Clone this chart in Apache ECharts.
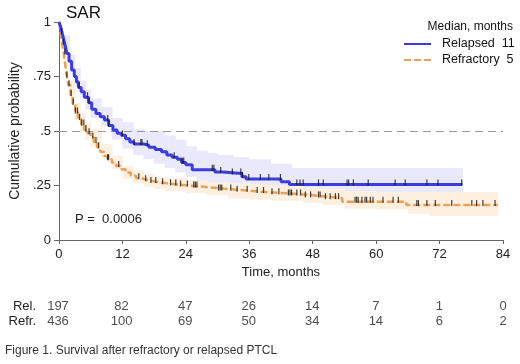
<!DOCTYPE html>
<html>
<head>
<meta charset="utf-8">
<script src="https://cdn.jsdelivr.net/npm/echarts@6/dist/echarts.min.js"></script>
<style>
  html, body { margin: 0; padding: 0; background: #fff; }
  #chart { width: 520px; height: 364px; }
</style>
</head>
<body>
<div id="chart"></div>
<script>
// Kaplan-Meier steps, relapsed
const relTime = [0, 0.3, 0.6, 0.9, 1.2, 1.5, 1.9, 2.4, 2.9, 3.3, 3.7, 4.2, 4.8, 5.6, 6.2, 7.0, 7.8, 8.6, 9.4, 10.2, 11.0, 11.8, 12.6, 13.4, 14.2, 16.0, 17.0, 18.2, 19.4, 20.4, 21.4, 22.4, 23.2, 24.0, 25.2, 29.5, 31.0, 34.6, 35.4, 42.0, 43.6, 76.3]
const relSurv = [1.0, 0.98, 0.95, 0.92, 0.89, 0.855, 0.82, 0.78, 0.75, 0.725, 0.70, 0.68, 0.655, 0.63, 0.60, 0.58, 0.565, 0.55, 0.525, 0.505, 0.49, 0.48, 0.465, 0.45, 0.44, 0.435, 0.425, 0.415, 0.405, 0.39, 0.38, 0.37, 0.355, 0.345, 0.322, 0.312, 0.305, 0.29, 0.28, 0.267, 0.255, 0.255]
// Kaplan-Meier steps, refractory
const refTime = [0, 0.3, 0.6, 0.9, 1.2, 1.5, 1.8, 2.2, 2.6, 3.1, 3.6, 4.2, 4.8, 5.4, 6.0, 6.6, 7.2, 7.8, 8.5, 9.2, 10.0, 10.8, 11.6, 12.6, 13.6, 14.6, 15.6, 17.0, 18.6, 20.4, 22.4, 24.6, 27.0, 30.0, 33.0, 36.0, 39.0, 43.0, 46.2, 50.3, 53.6, 65.7, 83.0]
const refSurv = [1.0, 0.95, 0.90, 0.855, 0.80, 0.75, 0.71, 0.665, 0.625, 0.585, 0.555, 0.53, 0.505, 0.49, 0.47, 0.45, 0.425, 0.405, 0.385, 0.37, 0.355, 0.34, 0.325, 0.31, 0.295, 0.283, 0.274, 0.266, 0.26, 0.255, 0.25, 0.245, 0.238, 0.232, 0.226, 0.22, 0.214, 0.209, 0.20, 0.192, 0.176, 0.16, 0.16]

// confidence bands (last time closes the band)
const relBandTime = [0, 1, 2, 3, 4, 5, 6, 8, 10, 12, 14, 16, 18, 20, 22, 24, 26, 28, 30, 33, 36, 40, 44, 50, 60, 70, 76.3]
const relHi = [1.0, 0.94, 0.85, 0.79, 0.73, 0.69, 0.65, 0.61, 0.56, 0.54, 0.51, 0.50, 0.50, 0.48, 0.46, 0.43, 0.41, 0.40, 0.39, 0.38, 0.37, 0.35, 0.33, 0.33, 0.33, 0.33, 0.33]
const relLo = [1.0, 0.87, 0.77, 0.70, 0.65, 0.60, 0.56, 0.52, 0.46, 0.42, 0.39, 0.37, 0.35, 0.33, 0.31, 0.29, 0.26, 0.25, 0.24, 0.23, 0.22, 0.21, 0.19, 0.19, 0.19, 0.19, 0.19]
const refBandTime = [0, 1, 2, 3, 4, 5, 6, 8, 10, 12, 14, 16, 18, 20, 24, 28, 32, 36, 40, 46, 50, 54, 60, 66, 70, 76, 83]
const refHi = [1.0, 0.86, 0.73, 0.63, 0.58, 0.54, 0.51, 0.44, 0.385, 0.34, 0.32, 0.30, 0.29, 0.285, 0.275, 0.265, 0.26, 0.255, 0.25, 0.24, 0.235, 0.225, 0.22, 0.22, 0.22, 0.22, 0.22]
const refLo = [1.0, 0.80, 0.65, 0.55, 0.50, 0.46, 0.43, 0.38, 0.325, 0.28, 0.26, 0.245, 0.235, 0.225, 0.215, 0.205, 0.19, 0.185, 0.18, 0.17, 0.16, 0.145, 0.14, 0.12, 0.11, 0.11, 0.11]

// censored times
const relCensor = [3.8, 5.4, 5.7, 9.2, 9.4, 12.0, 14.2, 15.5, 15.7, 16.7, 21.8, 23.3, 23.6, 29.0, 29.3, 30.6, 32.8, 34.4, 34.7, 35.9, 38.1, 39.7, 41.9, 45.0, 45.6, 46.2, 49.1, 50.0, 54.5, 54.8, 55.7, 58.5, 63.6, 65.5, 69.6, 71.7, 76.2]
const refCensor = [0.5, 0.8, 1.1, 1.5, 1.9, 2.3, 2.7, 3.1, 3.5, 3.9, 4.3, 4.7, 5.1, 5.7, 6.4, 7.0, 7.5, 9.2, 9.4, 11.3, 15.1, 16.4, 17.4, 18.3, 19.6, 21.1, 22.1, 23.0, 24.3, 25.5, 25.8, 26.1, 30.2, 30.5, 30.8, 32.5, 33.7, 35.6, 37.5, 38.7, 40.3, 41.6, 43.4, 43.7, 44.0, 45.0, 45.7, 46.6, 47.6, 49.1, 49.4, 50.4, 51.3, 52.3, 52.9, 56.0, 56.3, 56.6, 57.3, 57.9, 58.2, 58.9, 59.4, 61.3, 63.2, 64.2, 67.7, 68.0, 69.6, 71.2, 74.3, 78.1, 79.0, 80.2, 82.5]

// number at risk
const riskMonths = [0, 12, 24, 36, 48, 60, 72, 84]
const relAtRisk = [197, 82, 47, 26, 14, 7, 1, 0]
const refAtRisk = [436, 100, 69, 50, 34, 14, 6, 2]
const riskLabels = ['Rel.', 'Refr.']

const groupNames = ['Relapsed', 'Refractory']
const medians = [11, 5]
const yTickLabels = ['0', '.25', '.5', '.75', '1']

const BLUE = '#3c3cdc'
const ORANGE = '#e8a15a'
const BLUE_BAND = '#e9e9fb'
const ORANGE_BAND = '#fdf0e1'
const TXT = '#222'
const AXIS = '#666'
const FONT = "'Liberation Sans', Arial, sans-serif"

const pairs = (xs, ys) => xs.map((x, i) => [x, ys[i]])
const survAt = (xs, ys, t) => {
    let k = 0
    for (let i = 0; i < xs.length; i++) if (xs[i] <= t) k = i
    return ys[k]
}
// one rect per step of the band, drawn through the axes
const bandSeries = (xs, lo, hi, color, z) => ({
    type: 'custom', silent: true, z: z,
    renderItem: (params, api) => {
        const a = api.coord([api.value(0), api.value(3)])
        const b = api.coord([api.value(1), api.value(2)])
        return {
            type: 'rect',
            shape: { x: a[0], y: a[1], width: b[0] - a[0] + 0.6, height: b[1] - a[1] },
            style: { fill: color }
        }
    },
    data: xs.slice(0, -1).map((x, i) => [x, xs[i + 1], lo[i], hi[i]])
})
const censorSeries = (xs, ys, times) => ({
    type: 'scatter', symbol: 'rect', symbolSize: [1.2, 6], symbolOffset: [0, -2],
    itemStyle: { color: '#111' }, silent: true, z: 6,
    data: times.map(t => [t, survAt(xs, ys, t)])
})
const riskSeries = (row, counts) => ({
    type: 'scatter', xAxisIndex: 1, yAxisIndex: 1, symbolSize: 1, silent: true,
    itemStyle: { color: 'rgba(0,0,0,0)' },
    label: {
        show: true, position: 'inside', color: TXT, fontFamily: FONT, fontSize: 13,
        formatter: p => String(p.value[2])
    },
    data: riskMonths.map((m, i) => [m, row, counts[i]])
})

const chart = echarts.init(document.getElementById('chart'))
chart.setOption({
    animation: false,
    backgroundColor: '#fff',
    title: [
        { text: 'SAR', left: 61, top: 0, textStyle: { fontFamily: FONT, fontSize: 17, fontWeight: 'normal', color: '#111' } },
        { text: 'Median, months', right: 2, top: 16, textStyle: { fontFamily: FONT, fontSize: 12, fontWeight: 'normal', color: '#111' } },
        { text: 'Figure 1. Survival after refractory or relapsed PTCL', left: 0, top: 340, textStyle: { fontFamily: FONT, fontSize: 12, fontWeight: 'normal', color: '#333' } }
    ],
    graphic: [
        { type: 'text', left: 75, top: 213, z: 10, style: { text: 'P =  0.0006', font: '13px ' + FONT, fill: TXT } }
    ],
    legend: {
        orient: 'vertical', left: 398, top: 32,
        itemWidth: 27, itemHeight: 14, itemGap: 2,
        itemStyle: { opacity: 0 },
        data: groupNames,
        formatter: name => name + '  ' + medians[groupNames.indexOf(name)],
        textStyle: { fontFamily: FONT, fontSize: 12.5, color: '#111', lineHeight: 14, padding: [0, 0, 0, 6] }
    },
    grid: [
        { left: 58, right: 17, top: 22, bottom: 124 },
        { left: 58, right: 17, top: 299.5, height: 28.6 }
    ],
    xAxis: [
        {
            type: 'value', min: 0, max: 84, interval: 12,
            name: 'Time, months', nameLocation: 'middle', nameGap: 26,
            nameTextStyle: { fontFamily: FONT, fontSize: 13, color: TXT },
            axisLine: { lineStyle: { color: AXIS } },
            axisTick: { length: 4, lineStyle: { color: AXIS } },
            axisLabel: { fontFamily: FONT, fontSize: 13, color: TXT, margin: 8 },
            splitLine: { show: false }
        },
        { gridIndex: 1, type: 'value', min: 0, max: 84, show: false }
    ],
    yAxis: [
        {
            type: 'value', min: 0, max: 1, interval: 0.25,
            name: 'Cumulative probability', nameLocation: 'middle', nameGap: 31,
            nameTextStyle: { fontFamily: FONT, fontSize: 14, color: TXT },
            axisLine: { show: true, lineStyle: { color: AXIS } },
            axisTick: { show: true, length: 5, lineStyle: { color: AXIS } },
            axisLabel: { fontFamily: FONT, fontSize: 13, color: TXT, margin: 8, formatter: v => yTickLabels[Math.round(v / 0.25)] },
            splitLine: { show: false }
        },
        {
            gridIndex: 1, type: 'category', data: riskLabels, inverse: true,
            axisLine: { show: false }, axisTick: { show: false }, splitLine: { show: false },
            axisLabel: { interval: 0, fontFamily: FONT, fontSize: 13, color: TXT, margin: 22 }
        }
    ],
    series: [
        {
            type: 'line', data: [], silent: true, z: 1,
            markLine: {
                silent: true, symbol: 'none', label: { show: false },
                lineStyle: { color: '#999', type: [8, 5], width: 1 },
                data: [{ yAxis: 0.5 }]
            }
        },
        bandSeries(relBandTime, relLo, relHi, BLUE_BAND, 2),
        bandSeries(refBandTime, refLo, refHi, ORANGE_BAND, 3),
        {
            name: groupNames[1], type: 'line', step: 'end', symbol: 'none', z: 4,
            color: ORANGE,
            lineStyle: { color: ORANGE, width: 2.5, type: [7, 3] },
            data: pairs(refTime, refSurv)
        },
        {
            name: groupNames[0], type: 'line', step: 'end', symbol: 'none', z: 5,
            color: BLUE,
            lineStyle: { color: BLUE, width: 3 },
            data: pairs(relTime, relSurv)
        },
        censorSeries(refTime, refSurv, refCensor),
        censorSeries(relTime, relSurv, relCensor),
        riskSeries(0, relAtRisk),
        riskSeries(1, refAtRisk)
    ]
})
</script>
</body>
</html>
